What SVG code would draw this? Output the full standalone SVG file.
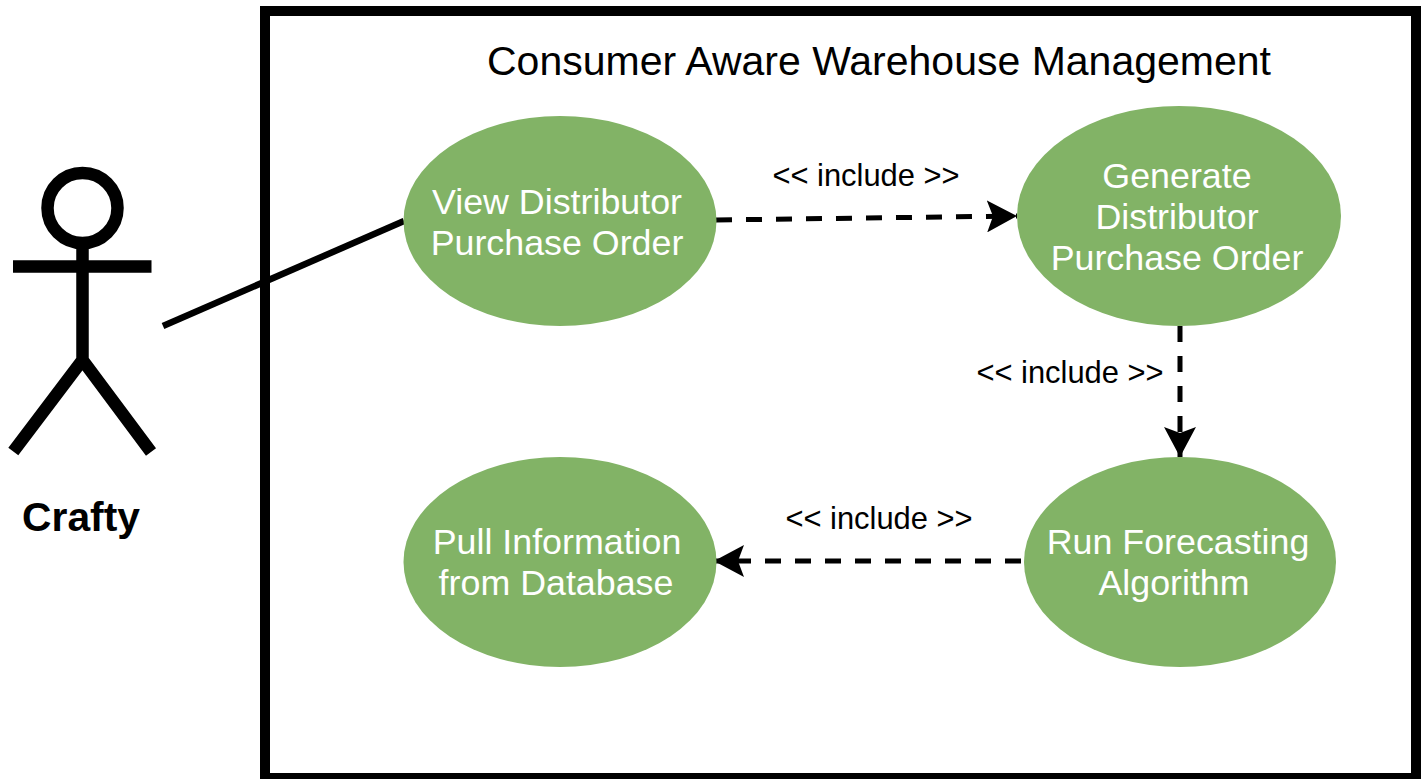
<svg xmlns="http://www.w3.org/2000/svg" width="1424" height="779" viewBox="0 0 1424 779">
<defs>
<marker id="ah" markerUnits="userSpaceOnUse" markerWidth="30" markerHeight="32" refX="30" refY="16" orient="auto"><path d="M0 0 L30 16 L0 32 L6 16 Z" fill="#000"/></marker>
</defs>
<style>
text{font-family:"Liberation Sans",Arial,sans-serif}
.uc{fill:#82b366}
.ut{fill:#fff;font-size:35.800px;text-anchor:middle}
.lb{fill:#000;font-size:30.900px;text-anchor:middle}
.dash{fill:none;stroke:#000;stroke-width:5;stroke-dasharray:16 14}
.s{fill:none;stroke:#000}
</style>
<rect width="1424" height="779" fill="#fff"/>
<g id="system"><rect x="265" y="11" width="1151" height="767" fill="none" stroke="#000" stroke-width="10"/>
<text x="879" y="75" font-size="41" text-anchor="middle" fill="#000">Consumer Aware Warehouse Management</text></g>
<g id="actor"><circle cx="82.500" cy="208" r="35" class="s" stroke-width="12.500"/><path class="s" stroke-width="12.500" d="M82.500 243V360M13 266.500H151.500M82.500 360L13.300 451.500M82.500 360L151 452"/>
<text x="81" y="531" font-size="40.800" font-weight="700" text-anchor="middle" fill="#000">Crafty</text></g>
<g id="connectors">
<path class="s" stroke-width="6.500" d="M163 326L404 221"/>
<path class="dash" d="M716 220L1017 216" marker-end="url(#ah)"/>
<path class="dash" d="M1180 326V457" marker-end="url(#ah)"/>
<path class="dash" d="M1021 561H714" marker-end="url(#ah)"/>
</g>
<g id="uc1"><ellipse class="uc" cx="560" cy="221" rx="156.500" ry="105"/><text class="ut" x="557" y="214">View Distributor</text><text class="ut" x="557" y="255">Purchase Order</text></g>
<g id="uc2"><ellipse class="uc" cx="1179" cy="216" rx="162" ry="110"/><text class="ut" x="1177" y="188">Generate</text><text class="ut" x="1177" y="229">Distributor</text><text class="ut" x="1177" y="270">Purchase Order</text></g>
<g id="uc3"><ellipse class="uc" cx="1180" cy="562" rx="156" ry="105"/><text class="ut" x="1178" y="554">Run Forecasting</text><text class="ut" x="1174" y="595">Algorithm</text></g>
<g id="uc4"><ellipse class="uc" cx="560" cy="562" rx="156.500" ry="105"/><text class="ut" x="557" y="554">Pull Information</text><text class="ut" x="556" y="595">from Database</text></g>
<g id="labels"><text class="lb" x="866" y="186">&lt;&lt; include &gt;&gt;</text><text class="lb" x="1070" y="383">&lt;&lt; include &gt;&gt;</text><text class="lb" x="879" y="529">&lt;&lt; include &gt;&gt;</text></g>
</svg>
